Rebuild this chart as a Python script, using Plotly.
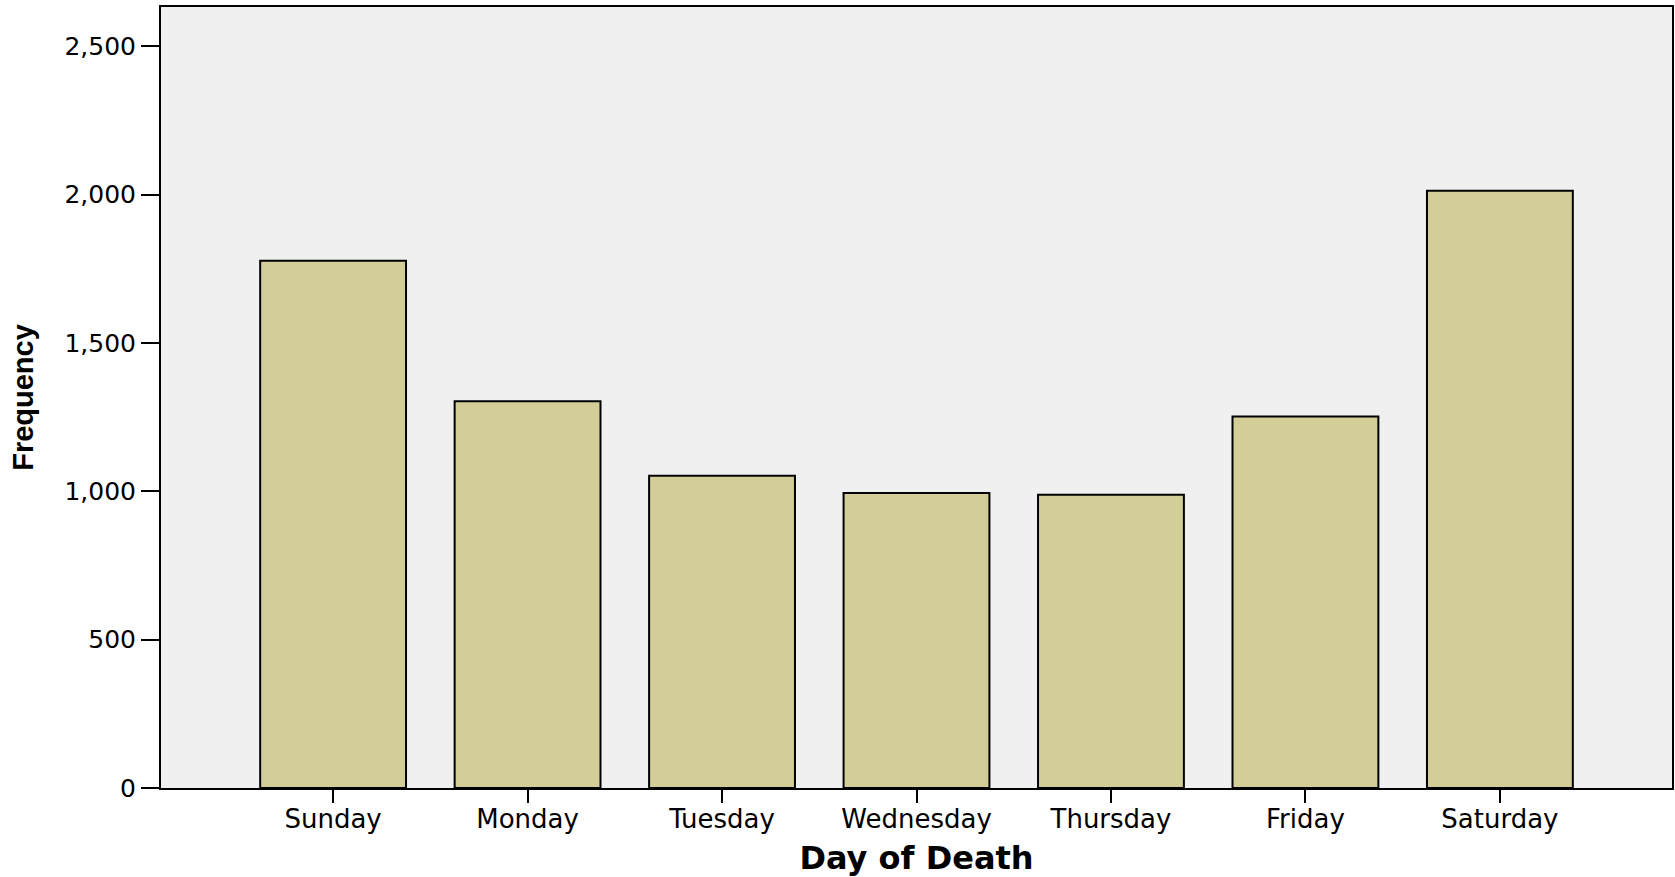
import plotly.graph_objects as go

days = ["Sunday", "Monday", "Tuesday", "Wednesday", "Thursday", "Friday", "Saturday"]
frequency = [1777, 1303, 1052, 994, 988, 1252, 2013]
y_ticks = [0, 500, 1000, 1500, 2000, 2500]
y_tick_labels = ["0", "500", "1,000", "1,500", "2,000", "2,500"]

fig = go.Figure(
    go.Bar(
        x=days,
        y=frequency,
        marker=dict(color="#D3CE98", line=dict(color="black", width=2)),
        width=0.75,
    )
)

fig.update_layout(
    width=1675,
    height=877,
    margin=dict(l=161, r=3, t=7, b=89),
    paper_bgcolor="white",
    plot_bgcolor="#F0F0F0",
    showlegend=False,
    font=dict(family="DejaVu Sans", color="black"),
)

fig.update_xaxes(
    range=[-0.885, 6.885],
    showline=True,
    linecolor="black",
    linewidth=2,
    mirror=True,
    ticks="outside",
    ticklen=13,
    tickwidth=2,
    tickcolor="black",
    ticklabelstandoff=-6,
    showgrid=False,
    tickfont=dict(family="DejaVu Sans", size=26, color="black"),
    title=dict(
        text="<b>Day of Death</b>",
        font=dict(family="DejaVu Sans", size=32, color="black"),
        standoff=20,
    ),
    automargin=False,
)

fig.update_yaxes(
    range=[0, 2632],
    tickvals=y_ticks,
    ticktext=y_tick_labels,
    showline=True,
    linecolor="black",
    linewidth=2,
    mirror=True,
    ticks="outside",
    ticklen=18,
    tickwidth=2,
    tickcolor="black",
    showgrid=False,
    zeroline=False,
    tickfont=dict(family="DejaVu Sans", size=25, color="black"),
    title=dict(
        text="<b>Frequency</b>",
        font=dict(family="Liberation Sans", size=29, color="black"),
        standoff=22,
    ),
    automargin=False,
)

fig.write_html(
    "out.html",
    config={"displayModeBar": False},
    post_script="document.body.style.margin='0';document.body.style.overflow='hidden';",
)
